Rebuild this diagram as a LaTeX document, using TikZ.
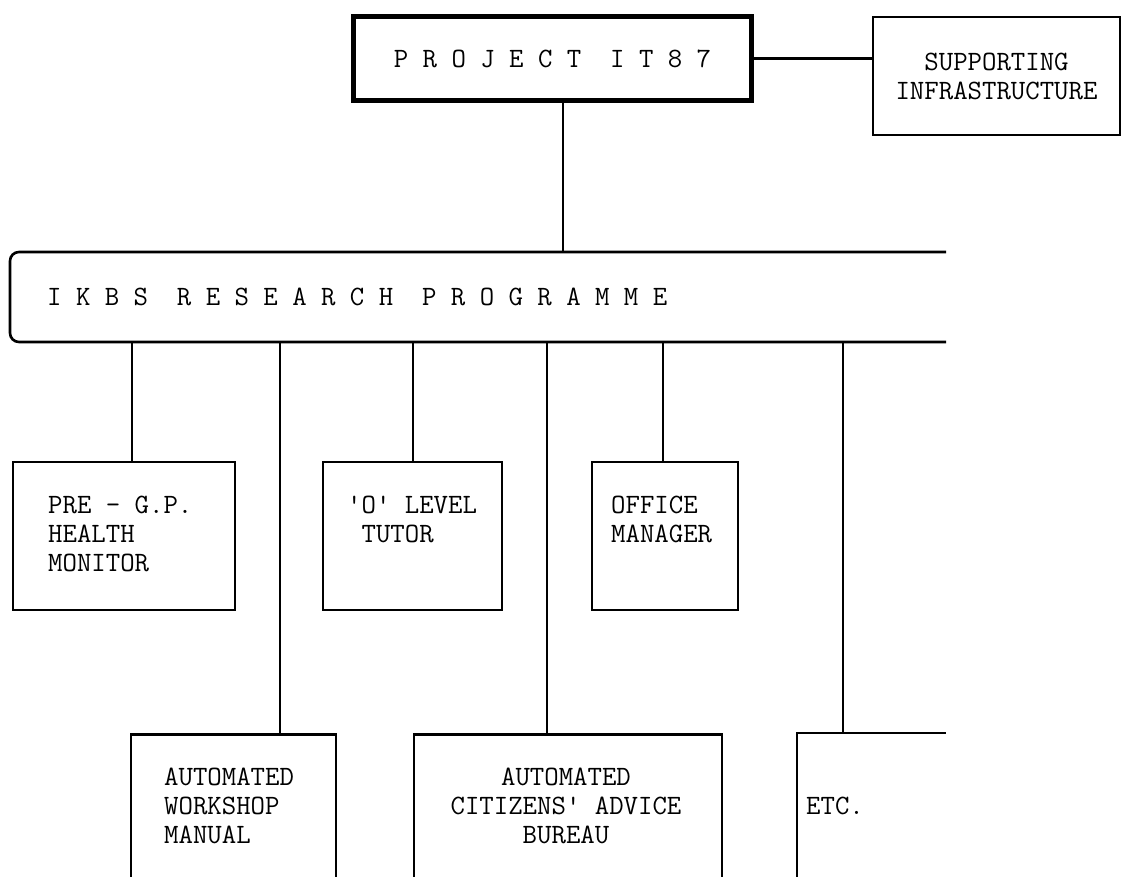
\documentclass[tikz,border=0pt]{standalone}
\usepackage{fontspec}
\usetikzlibrary{positioning}

\tikzset{
  box/.style={draw, line width=2.6pt, inner sep=0pt},
  mainbox/.style={draw, line width=5.5pt, inner sep=0pt},
  txt/.style={font=\ttfamily\fontsize{28}{29}\selectfont, inner sep=0pt, align=left},
  link/.style={line width=2.6pt}
}

\begin{document}
\begin{tikzpicture}[x=1pt, y=-1pt]
  \def\Ybar{252};
  \def\Ybot{342};
  \def\Yrow{536};
  \def\Ylow{733};
  \def\Xend{946};
  \def\Yout{900};
  \useasboundingbox (0,0) rectangle (1123,877);
  \clip (0,0) rectangle (1123,877);

        \node[mainbox, txt, minimum width=398, minimum height=84] (it87) at (552.5,58.5)
              {P R O J E C T\ \ I T 8 7};                              % project
        \node[box, txt, align=center, minimum width=247, minimum height=118] (infra) at (996.5,76)
              {SUPPORTING\\INFRASTRUCTURE};
        \draw[link] (it87.east) -- (it87.east -| infra.west);        % it87 -> infra

        \draw[link, rounded corners=9] (\Xend,\Ybar) -- (10,\Ybar) -- (10,\Ybot) -- (\Xend,\Ybot);  % ikbs bar
        \node[txt, anchor=base west] (ikbs) at (47,305)
              {I K B S\ \ R E S E A R C H\ \ P R O G R A M M E};
        \coordinate (top) at (563,\Ybar);
        \draw[link] (top |- it87.south) -- (top);                   % it87 -> ikbs

        \foreach \x/\n in {132/1, 280/2, 413/3, 547/4, 663/5, 843/6}
          \coordinate (d\n) at (\x,\Ybot);

        % first row (base = last line)
        \node[box, minimum width=222, minimum height=148] (gp) at (124,\Yrow) {};
        \node[txt, anchor=base west] (gptxt) at (48,571) {PRE - G.P.\\HEALTH\\MONITOR};
        \node[box, minimum width=179, minimum height=148] (tutor) at (412.5,\Yrow) {};
        \node[txt, anchor=base west] (tutortxt) at (347,542) {'O' LEVEL\\\ TUTOR};
        \node[box, minimum width=146, minimum height=148] (office) at (665,\Yrow) {};
        \node[txt, anchor=base west] (officetxt) at (611,542) {OFFICE\\MANAGER};

        \draw[link] (d1) -- (d1 |- gp.north);
        \draw[link] (d3) -- (d3 |- tutor.north);
        \draw[link] (d5) -- (d5 |- office.north);

        % second row, open at the foot
        \node[box, anchor=north, minimum width=205, minimum height=200] (work) at (233.5,\Ylow) {};
        \node[txt, anchor=base west] (worktxt) at (164,843) {AUTOMATED\\WORKSHOP\\MANUAL};
        \node[box, anchor=north, minimum width=308, minimum height=200] (cab) at (568,\Ylow) {};
        \node[txt, anchor=base, align=center] (cabtxt) at (566,843)
              {AUTOMATED\\CITIZENS' ADVICE\\BUREAU};
        \coordinate (etc) at (797,\Ylow);
        \draw[link] (etc |- 0,\Yout) -- (etc) -- (\Xend,\Ylow);     % etc box
        \node[txt, anchor=base west] (etctxt) at (806,814) {ETC.};

        \draw[link] (d2) -- (d2 |- work.north);
        \draw[link] (d4) -- (d4 |- cab.north);
        \draw[link] (d6) -- (d6 |- etc);

\end{tikzpicture}
\end{document}
